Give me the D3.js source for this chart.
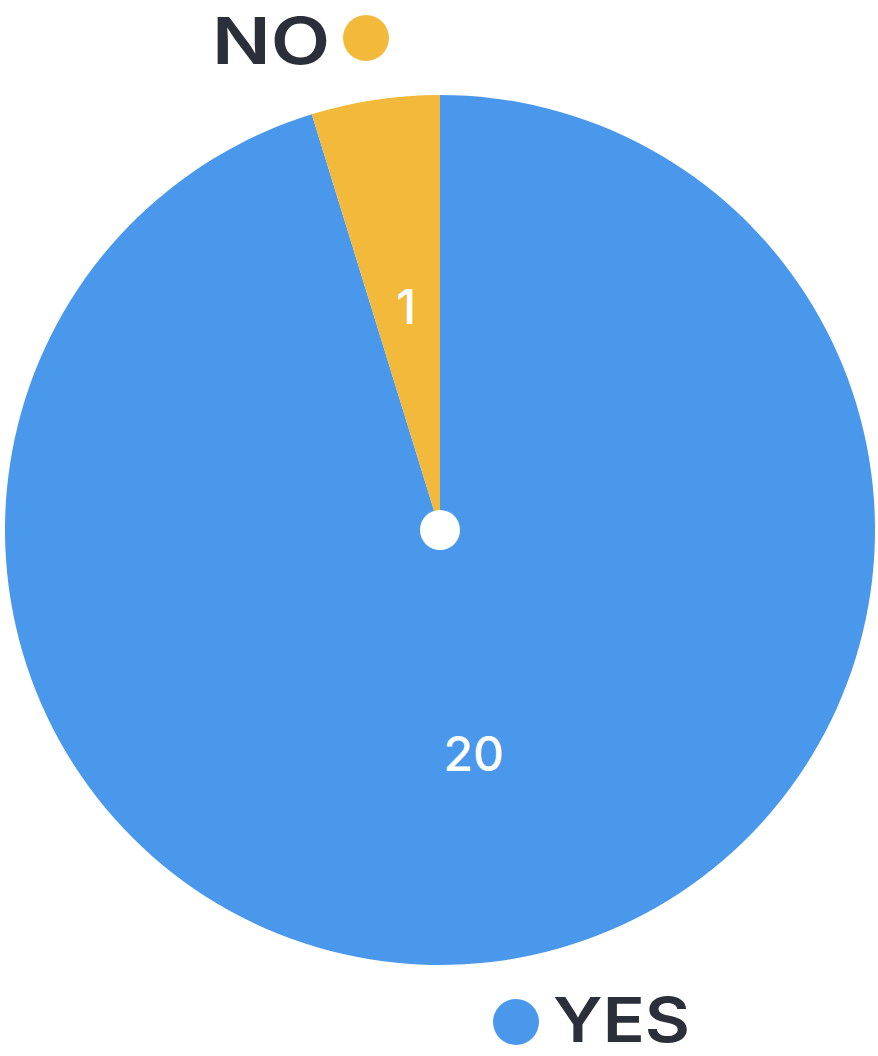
<!DOCTYPE html>
<html><head><meta charset="utf-8">
<script src="https://cdn.jsdelivr.net/npm/d3@7"></script>
<style>html,body{margin:0;padding:0;background:#fff;overflow:hidden;}</style>
</head><body>
<svg id="c" width="878" height="1056"></svg>
<script>
const categories = ["YES", "NO"];
const values = [20, 1];
const colors = ["#4A98EC", "#F2B93B"];

const svg = d3.select("#c");
const cx = 440, cy = 530, R = 435;
const pie = d3.pie().sort(null).value(d => d.value);
const data = pie(categories.map((c, i) => ({cat: c, value: values[i], color: colors[i]})));
const arc = d3.arc().innerRadius(0).outerRadius(R);
const labelArc = d3.arc().innerRadius(226).outerRadius(226);
const g = svg.append("g").attr("transform", `translate(${cx},${cy})`);
g.selectAll("path").data(data).join("path")
  .attr("d", arc).attr("fill", d => d.data.color);
g.selectAll("text").data(data).join("text")
  .attr("transform", d => `translate(${labelArc.centroid(d)})`)
  .attr("text-anchor", "middle").attr("dominant-baseline", "central")
  .attr("fill", "#fff").attr("font-family", "Inter, sans-serif")
  .attr("font-weight", 500).attr("font-size", 48)
  .text(d => d.data.value);
g.append("circle").attr("r", 20).attr("fill", "#fff");

const font = "Inter, sans-serif";
// legend NO (top)
svg.append("text").attr("x", 212).attr("y", 64)
  .attr("font-family", font).attr("font-weight", 600).attr("font-size", 64)
  .attr("textLength", 118).attr("lengthAdjust", "spacingAndGlyphs")
  .attr("fill", "#2B2F3A").text(categories[1]);
svg.append("circle").attr("cx", 366).attr("cy", 38).attr("r", 23).attr("fill", colors[1]);
// legend YES (bottom)
svg.append("circle").attr("cx", 516).attr("cy", 1022).attr("r", 23).attr("fill", colors[0]);
svg.append("text").attr("x", 553).attr("y", 1042)
  .attr("font-family", font).attr("font-weight", 600).attr("font-size", 62)
  .attr("textLength", 137).attr("lengthAdjust", "spacingAndGlyphs")
  .attr("fill", "#2B2F3A").text(categories[0]);
</script>
</body></html>
